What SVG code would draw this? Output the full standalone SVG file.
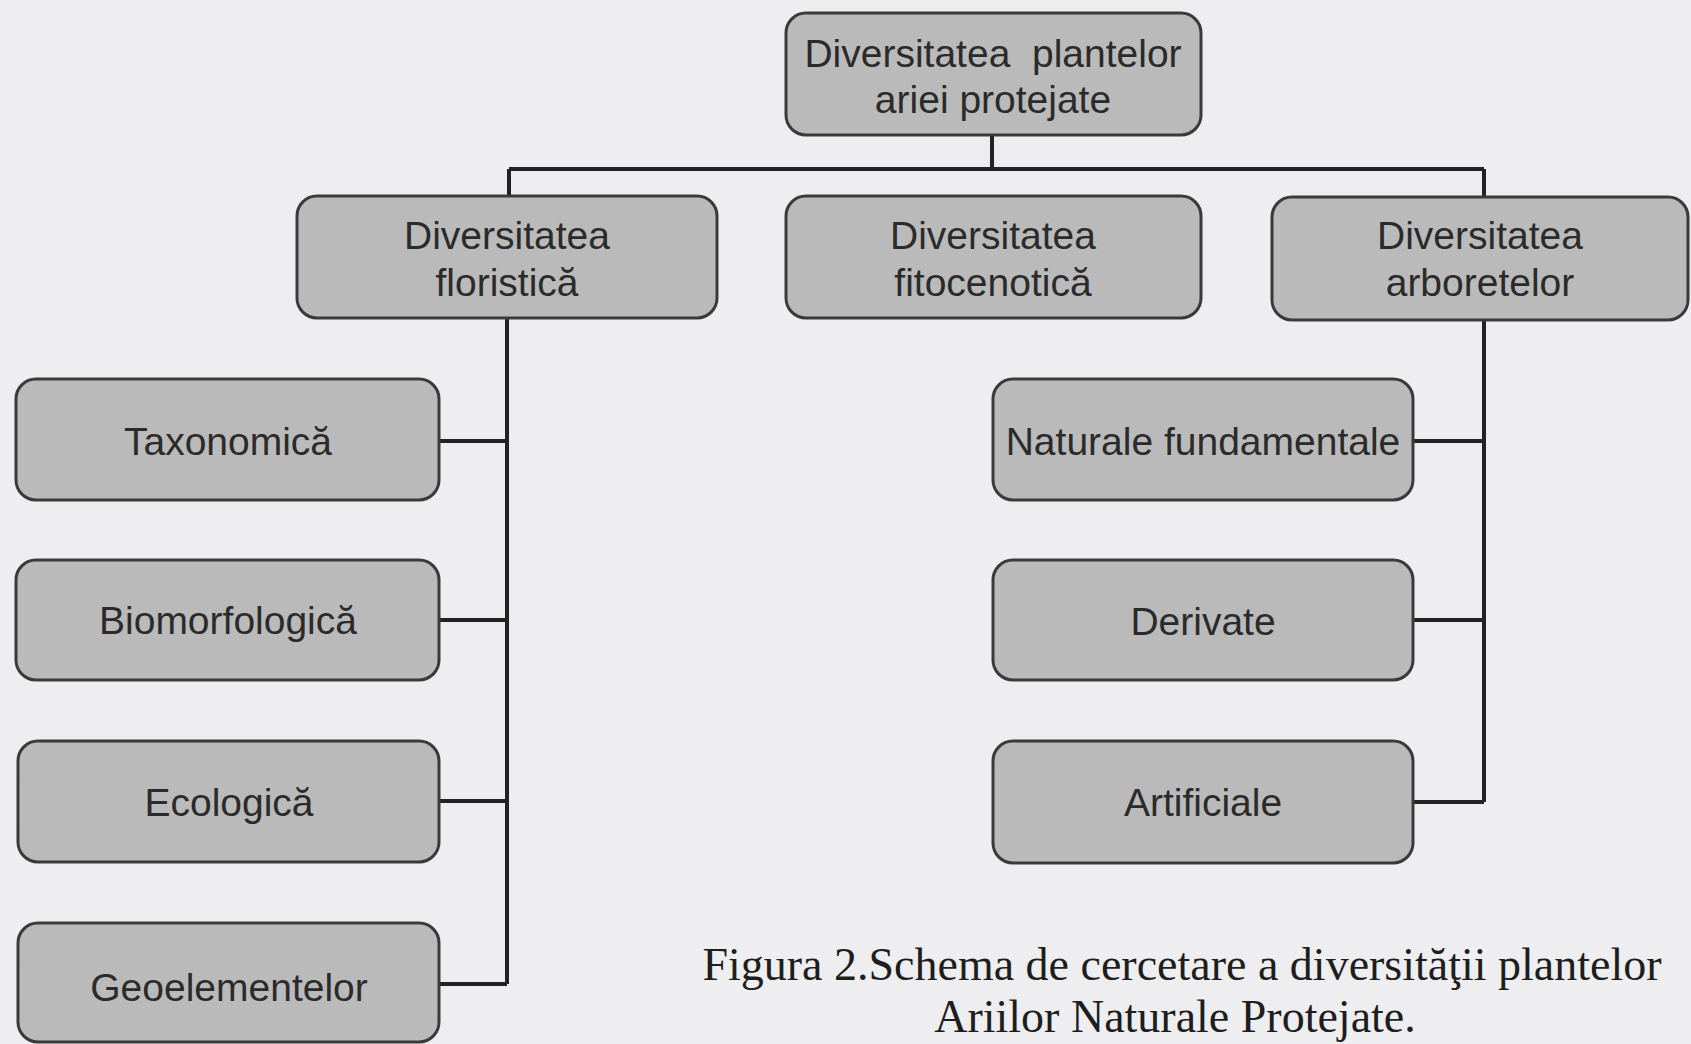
<svg xmlns="http://www.w3.org/2000/svg" width="1691" height="1044" viewBox="0 0 1691 1044">
<style>
.box{fill:#bababa;stroke:#3a3a3a;stroke-width:3}
.lbl{font-family:"Liberation Sans",Arial,sans-serif;font-size:39px;fill:#2b2b2b;text-anchor:middle}
.cap{font-family:"Liberation Serif","Times New Roman",serif;font-size:46px;fill:#1e1e1e;text-anchor:middle}
.ln{stroke:#222;stroke-width:4;fill:none}
</style>
<rect width="1691" height="1044" fill="#eeeef0"/>
<g id="connectors">
<path class="ln" d="M992 135V169M509 169H1484M509 169V196M1484 169V197"/>
<path class="ln" d="M507 318V984M439 441H507M439 620H507M439 801H507M439 984H507"/>
<path class="ln" d="M1484 320V802M1413 441H1484M1413 620H1484M1413 802H1484"/>
</g>
<g id="root"><rect class="box" x="786" y="13" width="415" height="122" rx="20"/><text class="lbl" x="993" y="67" xml:space="preserve">Diversitatea  plantelor</text><text class="lbl" x="993" y="113">ariei protejate</text></g>
<g id="floristica"><rect class="box" x="297" y="196" width="420" height="122" rx="20"/><text class="lbl" x="507" y="249">Diversitatea</text><text class="lbl" x="507" y="296">floristică</text></g>
<g id="fitocenotica"><rect class="box" x="786" y="196" width="415" height="122" rx="20"/><text class="lbl" x="993" y="249">Diversitatea</text><text class="lbl" x="993" y="296">fitocenotică</text></g>
<g id="arboretelor"><rect class="box" x="1272" y="197" width="416" height="123" rx="20"/><text class="lbl" x="1480" y="249">Diversitatea</text><text class="lbl" x="1480" y="296">arboretelor</text></g>
<g id="taxonomica"><rect class="box" x="16" y="379" width="423" height="121" rx="20"/><text class="lbl" x="228" y="455">Taxonomică</text></g>
<g id="biomorfologica"><rect class="box" x="16" y="560" width="423" height="120" rx="20"/><text class="lbl" x="228" y="634">Biomorfologică</text></g>
<g id="ecologica"><rect class="box" x="18" y="741" width="421" height="121" rx="20"/><text class="lbl" x="229" y="816">Ecologică</text></g>
<g id="geoelementelor"><rect class="box" x="18" y="923" width="421" height="119" rx="20"/><text class="lbl" x="229" y="1001">Geoelementelor</text></g>
<g id="naturale"><rect class="box" x="993" y="379" width="420" height="121" rx="20"/><text class="lbl" x="1203" y="455">Naturale fundamentale</text></g>
<g id="derivate"><rect class="box" x="993" y="560" width="420" height="120" rx="20"/><text class="lbl" x="1203" y="635">Derivate</text></g>
<g id="artificiale"><rect class="box" x="993" y="741" width="420" height="122" rx="20"/><text class="lbl" x="1203" y="816">Artificiale</text></g>
<g id="caption"><text class="cap" x="1182" y="980">Figura 2.Schema de cercetare a diversităţii plantelor</text><text class="cap" x="1175" y="1032">Ariilor Naturale Protejate.</text></g>
</svg>
